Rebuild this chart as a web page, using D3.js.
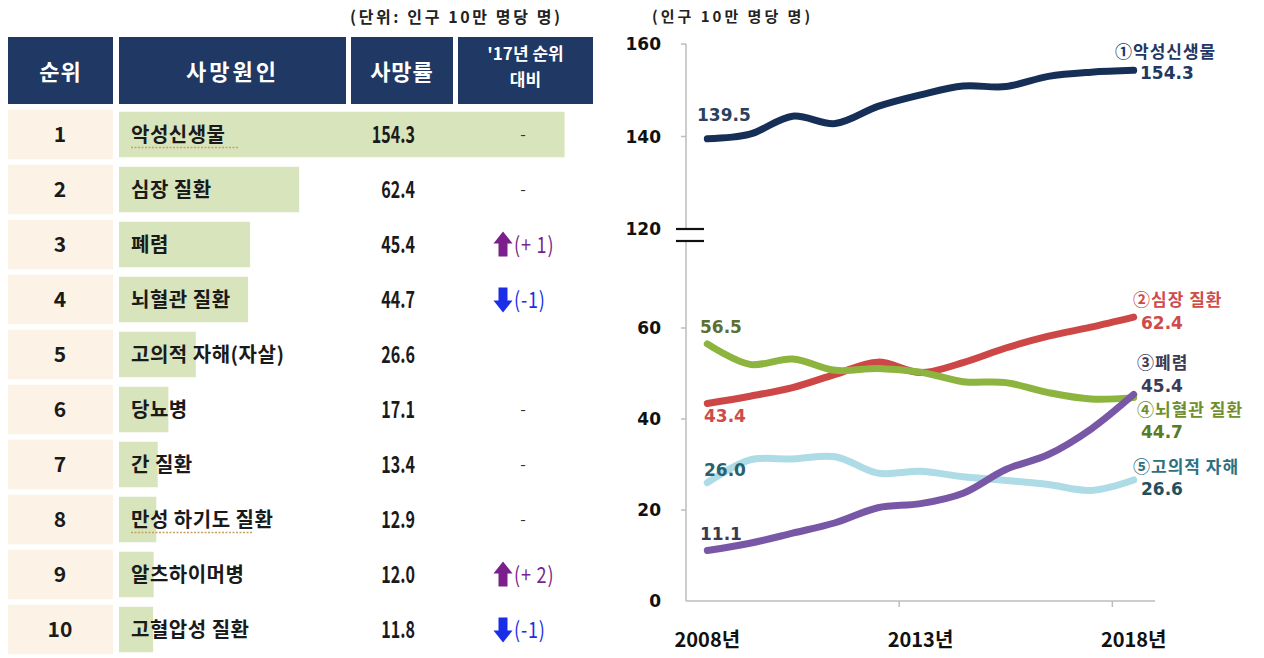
<!DOCTYPE html>
<html>
<head>
<meta charset="utf-8">
<script src="https://cdn.jsdelivr.net/npm/d3@7"></script>
<style>
  body { margin: 0; background: #fff; }
  svg text { font-family: "Noto Sans CJK KR", "Noto Sans", sans-serif; }
  .num { font-family: "DejaVu Sans", sans-serif; font-weight: bold; }
</style>
</head>
<body>
<div id="viz"></div>
<script>
// table data
var ranks = [1, 2, 3, 4, 5, 6, 7, 8, 9, 10];
var causes = ['악성신생물', '심장 질환', '폐렴', '뇌혈관 질환', '고의적 자해(자살)',
  '당뇨병', '간 질환', '만성 하기도 질환', '알츠하이머병', '고혈압성 질환'];
var rates = [154.3, 62.4, 45.4, 44.7, 26.6, 17.1, 13.4, 12.9, 12.0, 11.8];
var changes = ['-', '-', '+1', '-1', '', '-', '-', '-', '+2', '-1'];
var headers = ['순위', '사망원인', '사망률', "'17년 순위|대비"];

// line chart data
var years = [2008, 2009, 2010, 2011, 2012, 2013, 2014, 2015, 2016, 2017, 2018];
var cancer = [139.5, 140.5, 144.4, 142.8, 146.5, 149.0, 150.9, 150.8, 153.0, 153.9, 154.3];
var heart = [43.4, 45.0, 46.9, 49.8, 52.5, 50.2, 52.4, 55.6, 58.2, 60.2, 62.4];
var cerebro = [56.5, 52.0, 53.2, 50.7, 51.1, 50.3, 48.2, 48.0, 45.8, 44.4, 44.7];
var suicide = [26.0, 31.0, 31.2, 31.7, 28.1, 28.5, 27.3, 26.5, 25.6, 24.3, 26.6];
var pneumonia = [11.1, 12.7, 14.9, 17.2, 20.5, 21.4, 23.7, 28.9, 32.2, 37.8, 45.4];
var upperTicks = [160, 140, 120];
var lowerTicks = [60, 40, 20, 0];
var xTickYears = [2013, 2018];

var W = 1264, H = 658;
var svg = d3.select('#viz').append('svg').attr('width', W).attr('height', H);

// ---------- table ----------
var t = svg.append('g');
t.append('text').attr('x', 350).attr('y', 23).attr('font-size', 16).attr('font-weight', 'bold')
  .attr('letter-spacing', 2.6).attr('fill', '#222').text('(단위: 인구  10만  명당  명)');

var cols = [[8, 113], [119, 346], [351, 453], [458, 593]];
t.selectAll('rect.head').data(cols).enter().append('rect')
  .attr('x', function(d){ return d[0]; }).attr('y', 37)
  .attr('width', function(d){ return d[1] - d[0]; }).attr('height', 67)
  .attr('fill', '#1f3864');
headers.forEach(function(h, i){
  var cx = (cols[i][0] + cols[i][1]) / 2;
  var parts = h.split('|');
  if (parts.length == 1) {
    t.append('text').attr('x', cx).attr('y', 80).attr('text-anchor', 'middle')
      .attr('font-size', 22).attr('font-weight', 'bold').attr('fill', '#fff')
      .attr('letter-spacing', i == 1 ? 3 : 1)
      .text(h);
  } else {
    t.append('text').attr('x', cx).attr('y', 60).attr('text-anchor', 'middle')
      .attr('font-size', 17).attr('font-weight', 'bold').attr('fill', '#fff').text(parts[0]);
    t.append('text').attr('x', cx).attr('y', 86).attr('text-anchor', 'middle')
      .attr('font-size', 17).attr('font-weight', 'bold').attr('fill', '#fff').text(parts[1]);
  }
});

var rowY = d3.scaleBand().domain(ranks).range([107, 657]).paddingInner(0.1).paddingOuter(0.05);
var barX = d3.scaleLinear().domain([0, 160]).range([119, 581]);

var rows = t.selectAll('g.row').data(ranks).enter().append('g')
  .attr('transform', function(d){ return 'translate(0,' + rowY(d) + ')'; });
var bh = rowY.bandwidth();

rows.append('rect').attr('x', 8).attr('width', 105).attr('height', bh).attr('fill', '#fcf2e5');
rows.append('rect').attr('x', barX(0)).attr('y', 2)
  .attr('width', function(d, i){ return barX(rates[i]) - barX(0); })
  .attr('height', bh - 4).attr('fill', '#d8e4bc');
rows.append('text').attr('x', 60).attr('y', bh / 2 + 7).attr('text-anchor', 'middle')
  .attr('font-size', 21).attr('font-weight', 'bold').attr('fill', '#1a1a1a')
  .text(function(d){ return d; });
rows.append('text').attr('x', 131).attr('y', bh / 2 + 7)
  .attr('font-size', 20).attr('font-weight', 'bold').attr('fill', '#1a1a1a')
  .attr('letter-spacing', 0.5)
  .text(function(d, i){ return causes[i]; });
// spell-check squiggles
[0, 7].forEach(function(i){
  t.append('line').attr('x1', 131).attr('x2', i == 0 ? 238 : 252)
    .attr('y1', rowY(ranks[i]) + bh / 2 + 13).attr('y2', rowY(ranks[i]) + bh / 2 + 13)
    .attr('stroke', '#c8a060').attr('stroke-width', 1.5).attr('stroke-dasharray', '2,1.5');
});
rows.append('text')
  .attr('transform', 'translate(415,' + (bh / 2 + 8) + ') scale(0.7,1)')
  .attr('text-anchor', 'end').attr('font-size', 23).attr('font-weight', 'bold').attr('fill', '#1a1a1a')
  .text(function(d, i){ return d3.format('.1f')(rates[i]); });

rows.each(function(d, i){
  var g = d3.select(this), c = changes[i], cy = bh / 2;
  if (c == '-') {
    g.append('text').attr('x', 523).attr('y', cy + 5).attr('text-anchor', 'middle')
      .attr('font-size', 16).attr('fill', '#333').text('-');
  } else if (c != '') {
    var up = c[0] == '+';
    var col = up ? '#7a1f8c' : '#1a2ee8';
    var ax = 503, s = up ? -1 : 1;
    var p = d3.path();
    p.moveTo(ax, cy + s * 13);
    p.lineTo(ax + 9.5, cy + s * 1);
    p.lineTo(ax + 4.5, cy + s * 1);
    p.lineTo(ax + 4.5, cy - s * 12);
    p.lineTo(ax - 4.5, cy - s * 12);
    p.lineTo(ax - 4.5, cy + s * 1);
    p.lineTo(ax - 9.5, cy + s * 1);
    p.closePath();
    g.append('path').attr('d', p.toString()).attr('fill', col);
    g.append('text').attr('transform', 'translate(514,' + (cy + 8) + ') scale(0.82,1)')
      .attr('font-size', 22).attr('fill', col).attr('letter-spacing', 1)
      .text(up ? '(+ ' + c.slice(1) + ')' : '(' + c + ')');
  }
});

// ---------- line chart ----------
var c = svg.append('g');
c.append('text').attr('x', 652).attr('y', 22).attr('font-size', 15).attr('font-weight', 'bold')
  .attr('letter-spacing', 3).attr('fill', '#222').text('(인구 10만 명당 명)');

var x = d3.scaleBand().domain(years).range([686, 1155]);
var xc = function(yr){ return x(yr) + x.bandwidth() / 2; };
var yUp = d3.scaleLinear().domain([120, 160]).range([229, 44]);
var yLow = d3.scaleLinear().domain([0, 60]).range([601, 328]);

var axisCol = '#bdbdbd';
c.append('line').attr('x1', 686).attr('x2', 686).attr('y1', yUp(160)).attr('y2', yUp(120))
  .attr('stroke', axisCol).attr('stroke-width', 1.5);
c.append('line').attr('x1', 686).attr('x2', 686).attr('y1', 241).attr('y2', yLow(0))
  .attr('stroke', axisCol).attr('stroke-width', 1.5);
[229, 241].forEach(function(yy){
  c.append('line').attr('x1', 676).attr('x2', 704).attr('y1', yy).attr('y2', yy)
    .attr('stroke', '#111').attr('stroke-width', 2.2);
});
c.append('line').attr('x1', 686).attr('x2', 1155).attr('y1', yLow(0)).attr('y2', yLow(0))
  .attr('stroke', axisCol).attr('stroke-width', 1.5);

function yTicks(scale, vals){
  vals.forEach(function(v){
    var yy = scale(v);
    if (v != 120 && v != 0)
      c.append('line').attr('x1', 681).attr('x2', 686).attr('y1', yy).attr('y2', yy)
        .attr('stroke', axisCol).attr('stroke-width', 1.5);
    c.append('text').attr('class', 'num').attr('x', 661).attr('y', yy + 6)
      .attr('text-anchor', 'end').attr('font-size', 17).attr('fill', '#111').text(v);
  });
}
yTicks(yUp, upperTicks);
yTicks(yLow, lowerTicks);

xTickYears.forEach(function(yr){
  c.append('line').attr('x1', x(yr)).attr('x2', x(yr)).attr('y1', yLow(0)).attr('y2', yLow(0) + 6)
    .attr('stroke', axisCol).attr('stroke-width', 1.5);
});
[2008, 2013, 2018].forEach(function(yr){
  c.append('text').attr('x', xc(yr)).attr('y', 647).attr('text-anchor', 'middle')
    .attr('font-size', 20).attr('font-weight', 'bold').attr('fill', '#111')
    .text(yr + '년');
});

var series = [
  { vals: suicide, scale: yLow, color: '#addbe6' },
  { vals: heart, scale: yLow, color: '#cc4746' },
  { vals: cerebro, scale: yLow, color: '#8db43f' },
  { vals: pneumonia, scale: yLow, color: '#7858a6' },
  { vals: cancer, scale: yUp, color: '#152f57' }
];
series.forEach(function(s){
  var line = d3.line()
    .x(function(d, i){ return xc(years[i]); })
    .y(function(d){ return s.scale(d); })
    .curve(d3.curveCatmullRom.alpha(0.5));
  c.append('path').datum(s.vals).attr('d', line).attr('fill', 'none')
    .attr('stroke', s.color).attr('stroke-width', 7).attr('stroke-linecap', 'round');
});

// value labels
var fmt = d3.format('.1f');
var startLabels = [
  [cancer[0], 697, 121, '#2b3f60'],
  [cerebro[0], 700, 333, '#5b7030'],
  [heart[0], 704, 422, '#cf4a4a'],
  [suicide[0], 704, 476, '#2b6070'],
  [pneumonia[0], 700, 540, '#3a3a4e']
];
startLabels.forEach(function(l){
  c.append('text').attr('class', 'num').attr('x', l[1]).attr('y', l[2])
    .attr('font-size', 17).attr('fill', l[3]).text(fmt(l[0]));
});

var endLabels = [
  ['①악성신생물', cancer[10], 1115, 58, 1140, 79, '#1f3864', '#1f3864'],
  ['②심장 질환', heart[10], 1133, 306, 1141, 329, '#cf4a4a', '#cf4a4a'],
  ['③폐렴', pneumonia[10], 1137, 369, 1141, 392, '#3d3a55', '#3d3a55'],
  ['④뇌혈관 질환', cerebro[10], 1137, 416, 1141, 438, '#6f8f2f', '#5a7a28'],
  ['⑤고의적 자해', suicide[10], 1133, 473, 1141, 495, '#2e6f80', '#1f5060']
];
endLabels.forEach(function(l){
  c.append('text').attr('x', l[2]).attr('y', l[3]).attr('font-size', 17)
    .attr('letter-spacing', 1).attr('font-weight', 'bold').attr('fill', l[6]).text(l[0]);
  c.append('text').attr('class', 'num').attr('x', l[4]).attr('y', l[5])
    .attr('font-size', 17).attr('fill', l[7]).text(fmt(l[1]));
});
</script>
</body>
</html>
